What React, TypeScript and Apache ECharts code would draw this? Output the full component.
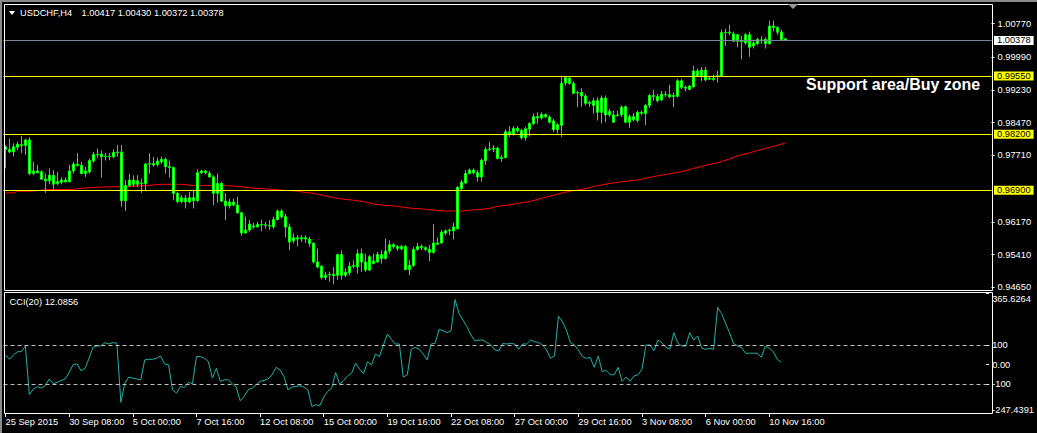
import React, { useEffect, useRef } from "react";
import * as echarts from "echarts";

const symbolName = "USDCHF,H4";
const lastQuote = "1.00417 1.00430 1.00372 1.00378";
const cciTitle = "CCI(20) 12.0856";
const noteText = "Support area/Buy zone";
const year = "2015";

const tradingDays = [
  "25 Sep", "28 Sep", "29 Sep", "30 Sep", "1 Oct", "2 Oct", "5 Oct", "6 Oct", "7 Oct", "8 Oct", "9 Oct",
  "12 Oct", "13 Oct", "14 Oct", "15 Oct", "16 Oct", "19 Oct", "20 Oct", "21 Oct", "22 Oct", "23 Oct",
  "26 Oct", "27 Oct", "28 Oct", "29 Oct", "30 Oct", "2 Nov", "3 Nov", "4 Nov", "5 Nov", "6 Nov",
  "9 Nov", "10 Nov", "11 Nov",
];
const barHours = ["00:00", "04:00", "08:00", "12:00", "16:00", "20:00"];
const firstBarSlot = 4; // 25 Sep 16:00

const opens = [
  0.9791, 0.9785, 0.9779, 0.9790, 0.9796, 0.9794, 0.9807, 0.9729, 0.9735, 0.9733,
  0.9716, 0.9712, 0.9725, 0.9706, 0.9709, 0.9714, 0.9710, 0.9735, 0.9751, 0.9748,
  0.9729, 0.9733, 0.9758, 0.9773, 0.9774, 0.9768, 0.9769, 0.9768, 0.9778, 0.9779,
  0.9666, 0.9701, 0.9714, 0.9704, 0.9707, 0.9706, 0.9751, 0.9752, 0.9750, 0.9756,
  0.9762, 0.9745, 0.9743, 0.9683, 0.9664, 0.9672, 0.9663, 0.9673, 0.9666, 0.9731,
  0.9735, 0.9729, 0.9721, 0.9683, 0.9706, 0.9665, 0.9654, 0.9663, 0.9656, 0.9638,
  0.9591, 0.9598, 0.9607, 0.9605, 0.9611, 0.9610, 0.9608, 0.9605, 0.9622, 0.9642,
  0.9629, 0.9605, 0.9573, 0.9577, 0.9580, 0.9580, 0.9577, 0.9567, 0.9524, 0.9514,
  0.9488, 0.9494, 0.9495, 0.9493, 0.9541, 0.9493, 0.9499, 0.9514, 0.9512, 0.9543,
  0.9524, 0.9505, 0.9526, 0.9524, 0.9541, 0.9532, 0.9549, 0.9564, 0.9555, 0.9560,
  0.9560, 0.9506, 0.9516, 0.9553, 0.9560, 0.9557, 0.9553, 0.9546, 0.9568, 0.9568,
  0.9591, 0.9596, 0.9596, 0.9601, 0.9694, 0.9707, 0.9729, 0.9737, 0.9731, 0.9721,
  0.9759, 0.9785, 0.9786, 0.9788, 0.9764, 0.9766, 0.9826, 0.9821, 0.9834, 0.9829,
  0.9812, 0.9832, 0.9845, 0.9861, 0.9858, 0.9866, 0.9860, 0.9851, 0.9831, 0.9841,
  0.9939, 0.9950, 0.9938, 0.9916, 0.9917, 0.9909, 0.9892, 0.9887, 0.9898, 0.9871,
  0.9904, 0.9865, 0.9865, 0.9864, 0.9865, 0.9884, 0.9848, 0.9861, 0.9852, 0.9871,
  0.9868, 0.9887, 0.9910, 0.9908, 0.9900, 0.9913, 0.9912, 0.9908, 0.9908, 0.9944,
  0.9929, 0.9924, 0.9930, 0.9967, 0.9956, 0.9969, 0.9948, 0.9950, 0.9954, 0.9956,
  1.0056, 1.0057, 1.0053, 1.0036, 1.0036, 1.0032, 1.0051, 1.0025, 1.0030, 1.0039,
  1.0030, 1.0030, 1.0071, 1.0068, 1.0057, 1.00417,
];
const closes = [
  0.9785, 0.9779, 0.9791, 0.9797, 0.9794, 0.9807, 0.9729, 0.9735, 0.9731, 0.9716,
  0.9712, 0.9725, 0.9704, 0.9710, 0.9714, 0.9710, 0.9735, 0.9751, 0.9748, 0.9729,
  0.9735, 0.9759, 0.9773, 0.9774, 0.9768, 0.9769, 0.9768, 0.9778, 0.9779, 0.9666,
  0.9701, 0.9714, 0.9704, 0.9712, 0.9706, 0.9751, 0.9752, 0.9749, 0.9758, 0.9762,
  0.9745, 0.9743, 0.9683, 0.9664, 0.9673, 0.9663, 0.9673, 0.9666, 0.9731, 0.9735,
  0.9731, 0.9721, 0.9683, 0.9706, 0.9665, 0.9654, 0.9663, 0.9656, 0.9638, 0.9591,
  0.9598, 0.9612, 0.9605, 0.9611, 0.9610, 0.9609, 0.9607, 0.9622, 0.9642, 0.9629,
  0.9605, 0.9570, 0.9580, 0.9580, 0.9577, 0.9577, 0.9567, 0.9524, 0.9512, 0.9488,
  0.9493, 0.9495, 0.9492, 0.9541, 0.9493, 0.9500, 0.9514, 0.9516, 0.9543, 0.9524,
  0.9505, 0.9536, 0.9520, 0.9541, 0.9532, 0.9549, 0.9564, 0.9559, 0.9560, 0.9554,
  0.9506, 0.9516, 0.9553, 0.9560, 0.9557, 0.9553, 0.9546, 0.9568, 0.9565, 0.9593,
  0.9596, 0.9598, 0.9605, 0.9697, 0.9709, 0.9729, 0.9737, 0.9731, 0.9721, 0.9760,
  0.9785, 0.9786, 0.9788, 0.9764, 0.9766, 0.9826, 0.9821, 0.9834, 0.9828, 0.9812,
  0.9833, 0.9845, 0.9861, 0.9858, 0.9866, 0.9861, 0.9848, 0.9831, 0.9842, 0.9939,
  0.9952, 0.9938, 0.9915, 0.9917, 0.9909, 0.9892, 0.9894, 0.9898, 0.9871, 0.9904,
  0.9865, 0.9873, 0.9848, 0.9865, 0.9883, 0.9848, 0.9861, 0.9854, 0.9871, 0.9869,
  0.9887, 0.9910, 0.9908, 0.9898, 0.9913, 0.9912, 0.9907, 0.9910, 0.9944, 0.9929,
  0.9927, 0.9932, 0.9967, 0.9956, 0.9969, 0.9946, 0.9950, 0.9947, 0.9956, 1.0056,
  1.0057, 1.0055, 1.0036, 1.0051, 1.0035, 1.0051, 1.0022, 1.0032, 1.0040, 1.0038,
  1.0040, 1.0071, 1.0068, 1.0057, 1.0040, 1.00378,
];
const lows = [
  0.9741, 0.9776, 0.9769, 0.9783, 0.9776, 0.9772, 0.9725, 0.9725, 0.9729, 0.9715,
  0.9684, 0.9704, 0.9690, 0.9702, 0.9704, 0.9707, 0.9709, 0.9729, 0.9745, 0.9727,
  0.9721, 0.9729, 0.9754, 0.9766, 0.9720, 0.9759, 0.9760, 0.9764, 0.9768, 0.9652,
  0.9642, 0.9698, 0.9698, 0.9698, 0.9684, 0.9690, 0.9729, 0.9745, 0.9745, 0.9751,
  0.9729, 0.9720, 0.9667, 0.9660, 0.9660, 0.9648, 0.9660, 0.9648, 0.9663, 0.9728,
  0.9727, 0.9720, 0.9656, 0.9661, 0.9663, 0.9621, 0.9648, 0.9653, 0.9636, 0.9585,
  0.9590, 0.9594, 0.9601, 0.9604, 0.9595, 0.9601, 0.9598, 0.9601, 0.9621, 0.9625,
  0.9581, 0.9551, 0.9567, 0.9560, 0.9570, 0.9568, 0.9559, 0.9520, 0.9509, 0.9483,
  0.9482, 0.9478, 0.9472, 0.9482, 0.9483, 0.9489, 0.9493, 0.9509, 0.9497, 0.9501,
  0.9501, 0.9503, 0.9519, 0.9522, 0.9520, 0.9529, 0.9543, 0.9555, 0.9550, 0.9551,
  0.9505, 0.9493, 0.9512, 0.9550, 0.9551, 0.9549, 0.9526, 0.9543, 0.9563, 0.9565,
  0.9586, 0.9586, 0.9576, 0.9599, 0.9690, 0.9704, 0.9727, 0.9727, 0.9710, 0.9710,
  0.9749, 0.9781, 0.9779, 0.9762, 0.9756, 0.9764, 0.9814, 0.9817, 0.9824, 0.9808,
  0.9805, 0.9815, 0.9841, 0.9845, 0.9854, 0.9858, 0.9845, 0.9825, 0.9822, 0.9814,
  0.9933, 0.9935, 0.9914, 0.9883, 0.9884, 0.9887, 0.9884, 0.9868, 0.9852, 0.9845,
  0.9848, 0.9860, 0.9846, 0.9861, 0.9860, 0.9846, 0.9835, 0.9850, 0.9848, 0.9864,
  0.9841, 0.9881, 0.9898, 0.9894, 0.9897, 0.9907, 0.9904, 0.9883, 0.9906, 0.9925,
  0.9920, 0.9923, 0.9929, 0.9953, 0.9943, 0.9943, 0.9946, 0.9944, 0.9940, 0.9953,
  1.0025, 1.0050, 1.0035, 1.0022, 0.9994, 1.0028, 1.0000, 1.0019, 1.0027, 1.0030,
  1.0019, 1.0028, 1.0059, 1.0051, 1.0038, 1.00372,
];
const highs = [
  0.9795, 0.9810, 0.9799, 0.9803, 0.9816, 0.9810, 0.9813, 0.9756, 0.9749, 0.9737,
  0.9729, 0.9741, 0.9737, 0.9733, 0.9720, 0.9720, 0.9749, 0.9756, 0.9777, 0.9756,
  0.9745, 0.9764, 0.9779, 0.9787, 0.9783, 0.9776, 0.9777, 0.9785, 0.9795, 0.9795,
  0.9714, 0.9728, 0.9725, 0.9725, 0.9718, 0.9754, 0.9776, 0.9768, 0.9766, 0.9768,
  0.9766, 0.9759, 0.9745, 0.9687, 0.9679, 0.9679, 0.9687, 0.9689, 0.9739, 0.9738,
  0.9737, 0.9735, 0.9725, 0.9729, 0.9710, 0.9683, 0.9671, 0.9671, 0.9675, 0.9640,
  0.9629, 0.9621, 0.9615, 0.9617, 0.9622, 0.9617, 0.9621, 0.9629, 0.9646, 0.9646,
  0.9636, 0.9613, 0.9590, 0.9586, 0.9586, 0.9586, 0.9582, 0.9570, 0.9555, 0.9516,
  0.9501, 0.9501, 0.9512, 0.9543, 0.9551, 0.9509, 0.9524, 0.9528, 0.9553, 0.9555,
  0.9543, 0.9540, 0.9543, 0.9547, 0.9551, 0.9578, 0.9574, 0.9568, 0.9563, 0.9563,
  0.9563, 0.9528, 0.9559, 0.9568, 0.9565, 0.9560, 0.9563, 0.9612, 0.9581, 0.9598,
  0.9599, 0.9601, 0.9615, 0.9700, 0.9714, 0.9737, 0.9741, 0.9741, 0.9737, 0.9764,
  0.9791, 0.9803, 0.9795, 0.9791, 0.9772, 0.9831, 0.9839, 0.9839, 0.9839, 0.9833,
  0.9837, 0.9848, 0.9868, 0.9871, 0.9871, 0.9868, 0.9864, 0.9856, 0.9846, 0.9956,
  0.9955, 0.9955, 0.9943, 0.9921, 0.9927, 0.9914, 0.9898, 0.9904, 0.9906, 0.9910,
  0.9910, 0.9879, 0.9875, 0.9875, 0.9887, 0.9887, 0.9866, 0.9869, 0.9875, 0.9875,
  0.9891, 0.9914, 0.9923, 0.9914, 0.9921, 0.9920, 0.9935, 0.9917, 0.9948, 0.9948,
  0.9933, 0.9935, 0.9979, 0.9973, 0.9976, 0.9976, 0.9956, 0.9959, 0.9967, 1.0063,
  1.0065, 1.0074, 1.0058, 1.0053, 1.0048, 1.0055, 1.0058, 1.0036, 1.0044, 1.0048,
  1.0045, 1.0084, 1.0084, 1.0071, 1.0063, 1.00430,
];

// Moving average (sampled along the bars): [bar index, value]
const maSamples: [number, number][] = [
  [0, 0.9684], [2, 0.9684], [3, 0.9688], [6, 0.9688], [11, 0.9692], [17, 0.9692], [18, 0.9694],
  [22, 0.9697], [26, 0.9698], [30, 0.9699], [35, 0.9701], [39, 0.9704], [44, 0.9704], [47, 0.9701],
  [50, 0.9701], [53, 0.9702], [57, 0.9700], [60, 0.9697], [62, 0.9695], [64, 0.9694], [67, 0.9692],
  [70, 0.9690], [73, 0.9688], [75, 0.9685], [77, 0.9683], [80, 0.9677], [82, 0.9673], [84, 0.9670],
  [87, 0.9667], [90, 0.9663], [92, 0.9658], [95, 0.9655], [98, 0.9653], [100, 0.9650], [102, 0.9648],
  [105, 0.9646], [107, 0.9644], [110, 0.9642], [114, 0.9642], [116, 0.9644], [119, 0.9646],
  [121, 0.9648], [123, 0.9653], [126, 0.9656], [128, 0.9660], [131, 0.9664], [135, 0.9674],
  [140, 0.9686], [145, 0.9694], [147, 0.9699], [151, 0.9706], [155, 0.9711], [158, 0.9714],
  [162, 0.9722], [165, 0.9727], [169, 0.9733], [172, 0.9741], [175, 0.9748], [178, 0.9754],
  [181, 0.9763], [183, 0.9770], [186, 0.9777], [189, 0.9785], [192, 0.9792], [195, 0.9800],
];

const cci = [
  49, 27, 49, 66, 66, 95, -154, -125, -112, -120,
  -108, -74, -98, -91, -81, -74, -41, 0, 3, -32,
  -19, 32, 88, 95, 95, 112, 105, 112, 109, -193,
  -95, -64, -69, -74, -78, 24, 27, 27, 32, 44,
  3, -2, -129, -146, -112, -117, -91, -98, 41, 41,
  32, 15, -69, -19, -86, -78, -78, -98, -115, -185,
  -163, -129, -120, -103, -86, -81, -74, -52, -14, -27,
  -61, -129, -115, -112, -108, -115, -129, -214, -205, -210,
  -166, -137, -120, -41, -100, -81, -58, -44, 7, -24,
  -47, 15, -2, 54, 41, 100, 156, 129, 105, 105,
  -64, -52, 78, 88, 78, 54, 24, 105, 109, 180,
  173, 163, 173, 332, 261, 227, 193, 151, 122, 125,
  125, 112, 100, 75, 70, 108, 105, 108, 105, 78,
  105, 105, 125, 117, 112, 100, 75, 32, 44, 247,
  219, 176, 112, 100, 75, 41, 32, 36, -14, 44,
  -36, -30, -52, -52, -14, -86, -64, -86, -58, -52,
  -24, 100, 100, 71, 125, 112, 88, 78, 163, 109,
  95, 95, 163, 125, 146, 83, 78, 83, 78, 292,
  261, 210, 163, 108, 95, 88, 58, 58, 58, 58,
  37, 95, 83, 66, 27, 12.0856,
];

const priceMin = 0.94588;
const priceMax = 1.012;
const priceTicks = [1.0077, 0.9999, 0.9923, 0.9847, 0.9771, 0.9617, 0.9541, 0.9465];
const levelLines = [0.9955, 0.982, 0.969];
const bidPrice = 1.00378;

const cciMin = -247.4391;
const cciMax = 365.6264;
const cciTicks = [365.6264, 100, 0, -100, -247.4391];
const cciLevels = [100, -100];

const totalSlots = 247; // bars + empty space to the right (chart shift)

const FONT = "'Liberation Sans', Arial, sans-serif";
const FS = 9.3;
const LIME = "#00ff00";

export default function App() {
  const ref = useRef<HTMLDivElement>(null);
  useEffect(() => {
    document.body.style.margin = "0";
    document.body.style.background = "#000";
    const chart = echarts.init(ref.current!, undefined, { renderer: "svg" });

    const allSlots: string[] = [];
    tradingDays.forEach((d) => barHours.forEach((h) => allSlots.push(d + " " + h)));
    const barLabels = allSlots.slice(firstBarSlot, firstBarSlot + closes.length);
    const categories = barLabels.concat(new Array(totalSlots - barLabels.length).fill(""));
    const nBars = closes.length;

    const candles = closes.map((c, i) => [opens[i], c, lows[i], highs[i]]);

    const showEvery = (index: number) => index % 16 === 0 && index < nBars;

    const option: any = {
      animation: false,
      backgroundColor: "#000",
      textStyle: { fontFamily: FONT },
      grid: [
        { left: 3.5, width: 988, top: 5, height: 285 },
        { left: 3.5, width: 988, top: 293, height: 120 },
      ],
      xAxis: [
        {
          type: "category",
          gridIndex: 0,
          data: categories,
          boundaryGap: true,
          axisLine: { show: false, onZero: false },
          axisTick: { show: false },
          axisLabel: { show: false },
          splitLine: { show: false },
        },
        {
          type: "category",
          gridIndex: 1,
          position: "bottom",
          data: categories,
          boundaryGap: true,
          axisLine: { show: false, onZero: false },
          axisTick: {
            show: true,
            alignWithLabel: true,
            interval: (index: number) => showEvery(index),
            length: 4,
            lineStyle: { color: "#ffffff", width: 1 },
          },
          axisLabel: {
            show: true,
            interval: (index: number) => showEvery(index),
            formatter: (value: string, index: number) =>
              index === 0 ? tradingDays[0] + " " + year : value,
            align: "left",
            margin: 4,
            color: "#ffffff",
            fontSize: FS,
            fontFamily: FONT,
          },
          splitLine: { show: false },
        },
      ],
      yAxis: [
        {
          type: "value",
          gridIndex: 0,
          position: "right",
          min: priceMin,
          max: priceMax,
          scale: true,
          splitLine: { show: false },
          axisLine: { show: false },
          axisTick: {
            show: true,
            length: 3,
            customValues: priceTicks,
            lineStyle: { color: "#ffffff" },
          },
          axisLabel: {
            customValues: priceTicks,
            formatter: (v: number) => v.toFixed(5),
            color: "#ffffff",
            fontSize: FS,
            fontFamily: FONT,
            margin: 6,
          },
        },
        {
          type: "value",
          gridIndex: 1,
          position: "right",
          min: cciMin,
          max: cciMax,
          splitLine: { show: false },
          axisLine: { show: false },
          axisTick: {
            show: true,
            length: 3,
            customValues: cciTicks,
            lineStyle: { color: "#ffffff" },
          },
          axisLabel: {
            customValues: cciTicks,
            formatter: (v: number) => {
              if (v === cciMax) return "{t|" + v.toFixed(4) + "}";
              if (v === cciMin) return "{b|" + v.toFixed(4) + "}";
              if (v === 0) return "0.00";
              return String(v);
            },
            color: "#ffffff",
            fontSize: FS,
            fontFamily: FONT,
            margin: 6,
            rich: {
              t: { padding: [12, 0, 0, 0], color: "#ffffff", fontSize: FS, fontFamily: FONT },
              b: { padding: [0, 0, 6, 0], color: "#ffffff", fontSize: FS, fontFamily: FONT },
            },
          },
        },
      ],
      series: [
        {
          type: "line",
          name: "MA",
          xAxisIndex: 0,
          yAxisIndex: 0,
          data: maSamples,
          showSymbol: false,
          symbol: "none",
          lineStyle: { color: "#ff0000", width: 1 },
          z: 1,
          silent: true,
        },
        {
          type: "candlestick",
          name: symbolName,
          xAxisIndex: 0,
          yAxisIndex: 0,
          data: candles,
          barWidth: 3,
          itemStyle: {
            color: "#ffffff",
            color0: "#ffffff",
            borderColor: LIME,
            borderColor0: LIME,
            borderColorDoji: LIME,
            borderWidth: 1,
          },
          z: 3,
          silent: true,
          markLine: {
            silent: true,
            symbol: ["none", "none"],
            precision: 5,
            label: {
              show: true,
              position: "end",
              distance: 2.5,
              formatter: (p: any) => Number(p.value).toFixed(5),
              color: "#000000",
              fontSize: FS,
              fontFamily: FONT,
              padding: [0, 3, 0, 3],
              lineHeight: 9,
            },
            data: [
              ...levelLines.map((v) => ({
                yAxis: v,
                lineStyle: { color: "#ffff00", type: "solid", width: 1 },
                label: { backgroundColor: "#ffff00" },
              })),
              {
                yAxis: bidPrice,
                lineStyle: { color: "#778899", type: "solid", width: 1 },
                label: { backgroundColor: "#ffffff" },
              },
            ],
          },
        },
        {
          type: "line",
          name: "CCI(20)",
          xAxisIndex: 1,
          yAxisIndex: 1,
          data: cci,
          showSymbol: false,
          symbol: "none",
          lineStyle: { color: "#20b2aa", width: 1 },
          silent: true,
          markLine: {
            silent: true,
            symbol: ["none", "none"],
            label: { show: false },
            lineStyle: { color: "#c0c0c0", type: [4, 3], width: 1 },
            data: cciLevels.map((v) => ({ yAxis: v })),
          },
        },
      ],
      graphic: [
        { type: "rect", shape: { x: 0, y: 0, width: 1037, height: 2 }, style: { fill: "#8a8a8a" }, silent: true },
        { type: "rect", shape: { x: 0, y: 0, width: 2, height: 433 }, style: { fill: "#8a8a8a" }, silent: true },
        {
          type: "rect",
          shape: { x: 4.5, y: 4.5, width: 988, height: 286 },
          style: { fill: "none", stroke: "#ffffff", lineWidth: 1 },
          silent: true,
          z: 10,
        },
        {
          type: "rect",
          shape: { x: 4.5, y: 292.5, width: 988, height: 121 },
          style: { fill: "none", stroke: "#ffffff", lineWidth: 1 },
          silent: true,
          z: 10,
        },
        {
          type: "polygon",
          shape: { points: [[9, 11], [15, 11], [12, 15]] },
          style: { fill: "#ffffff" },
          silent: true,
          z: 11,
        },
        {
          type: "polygon",
          shape: { points: [[788, 4], [798, 4], [793, 9]] },
          style: { fill: "#9a9a9a" },
          silent: true,
          z: 11,
        },
        {
          type: "text",
          x: 20,
          y: 13,
          style: { text: symbolName, fill: "#ffffff", font: `${FS}px ${FONT}`, textVerticalAlign: "middle" },
          silent: true,
          z: 11,
        },
        {
          type: "text",
          x: 81.5,
          y: 13,
          style: { text: lastQuote, fill: "#ffffff", font: `${FS}px ${FONT}`, textVerticalAlign: "middle" },
          silent: true,
          z: 11,
        },
        {
          type: "text",
          x: 9.5,
          y: 302,
          style: { text: cciTitle, fill: "#ffffff", font: `${FS}px ${FONT}`, textVerticalAlign: "middle" },
          silent: true,
          z: 11,
        },
        {
          type: "text",
          x: 806,
          y: 84,
          style: { text: noteText, fill: "#ffffff", font: `bold 16px ${FONT}`, textVerticalAlign: "middle" },
          silent: true,
          z: 11,
        },
      ],
    };

    chart.setOption(option);
    return () => chart.dispose();
  }, []);

  return (
    <div
      ref={ref}
      style={{ position: "absolute", left: 0, top: 0, width: 1037, height: 433, background: "#000" }}
    />
  );
}
